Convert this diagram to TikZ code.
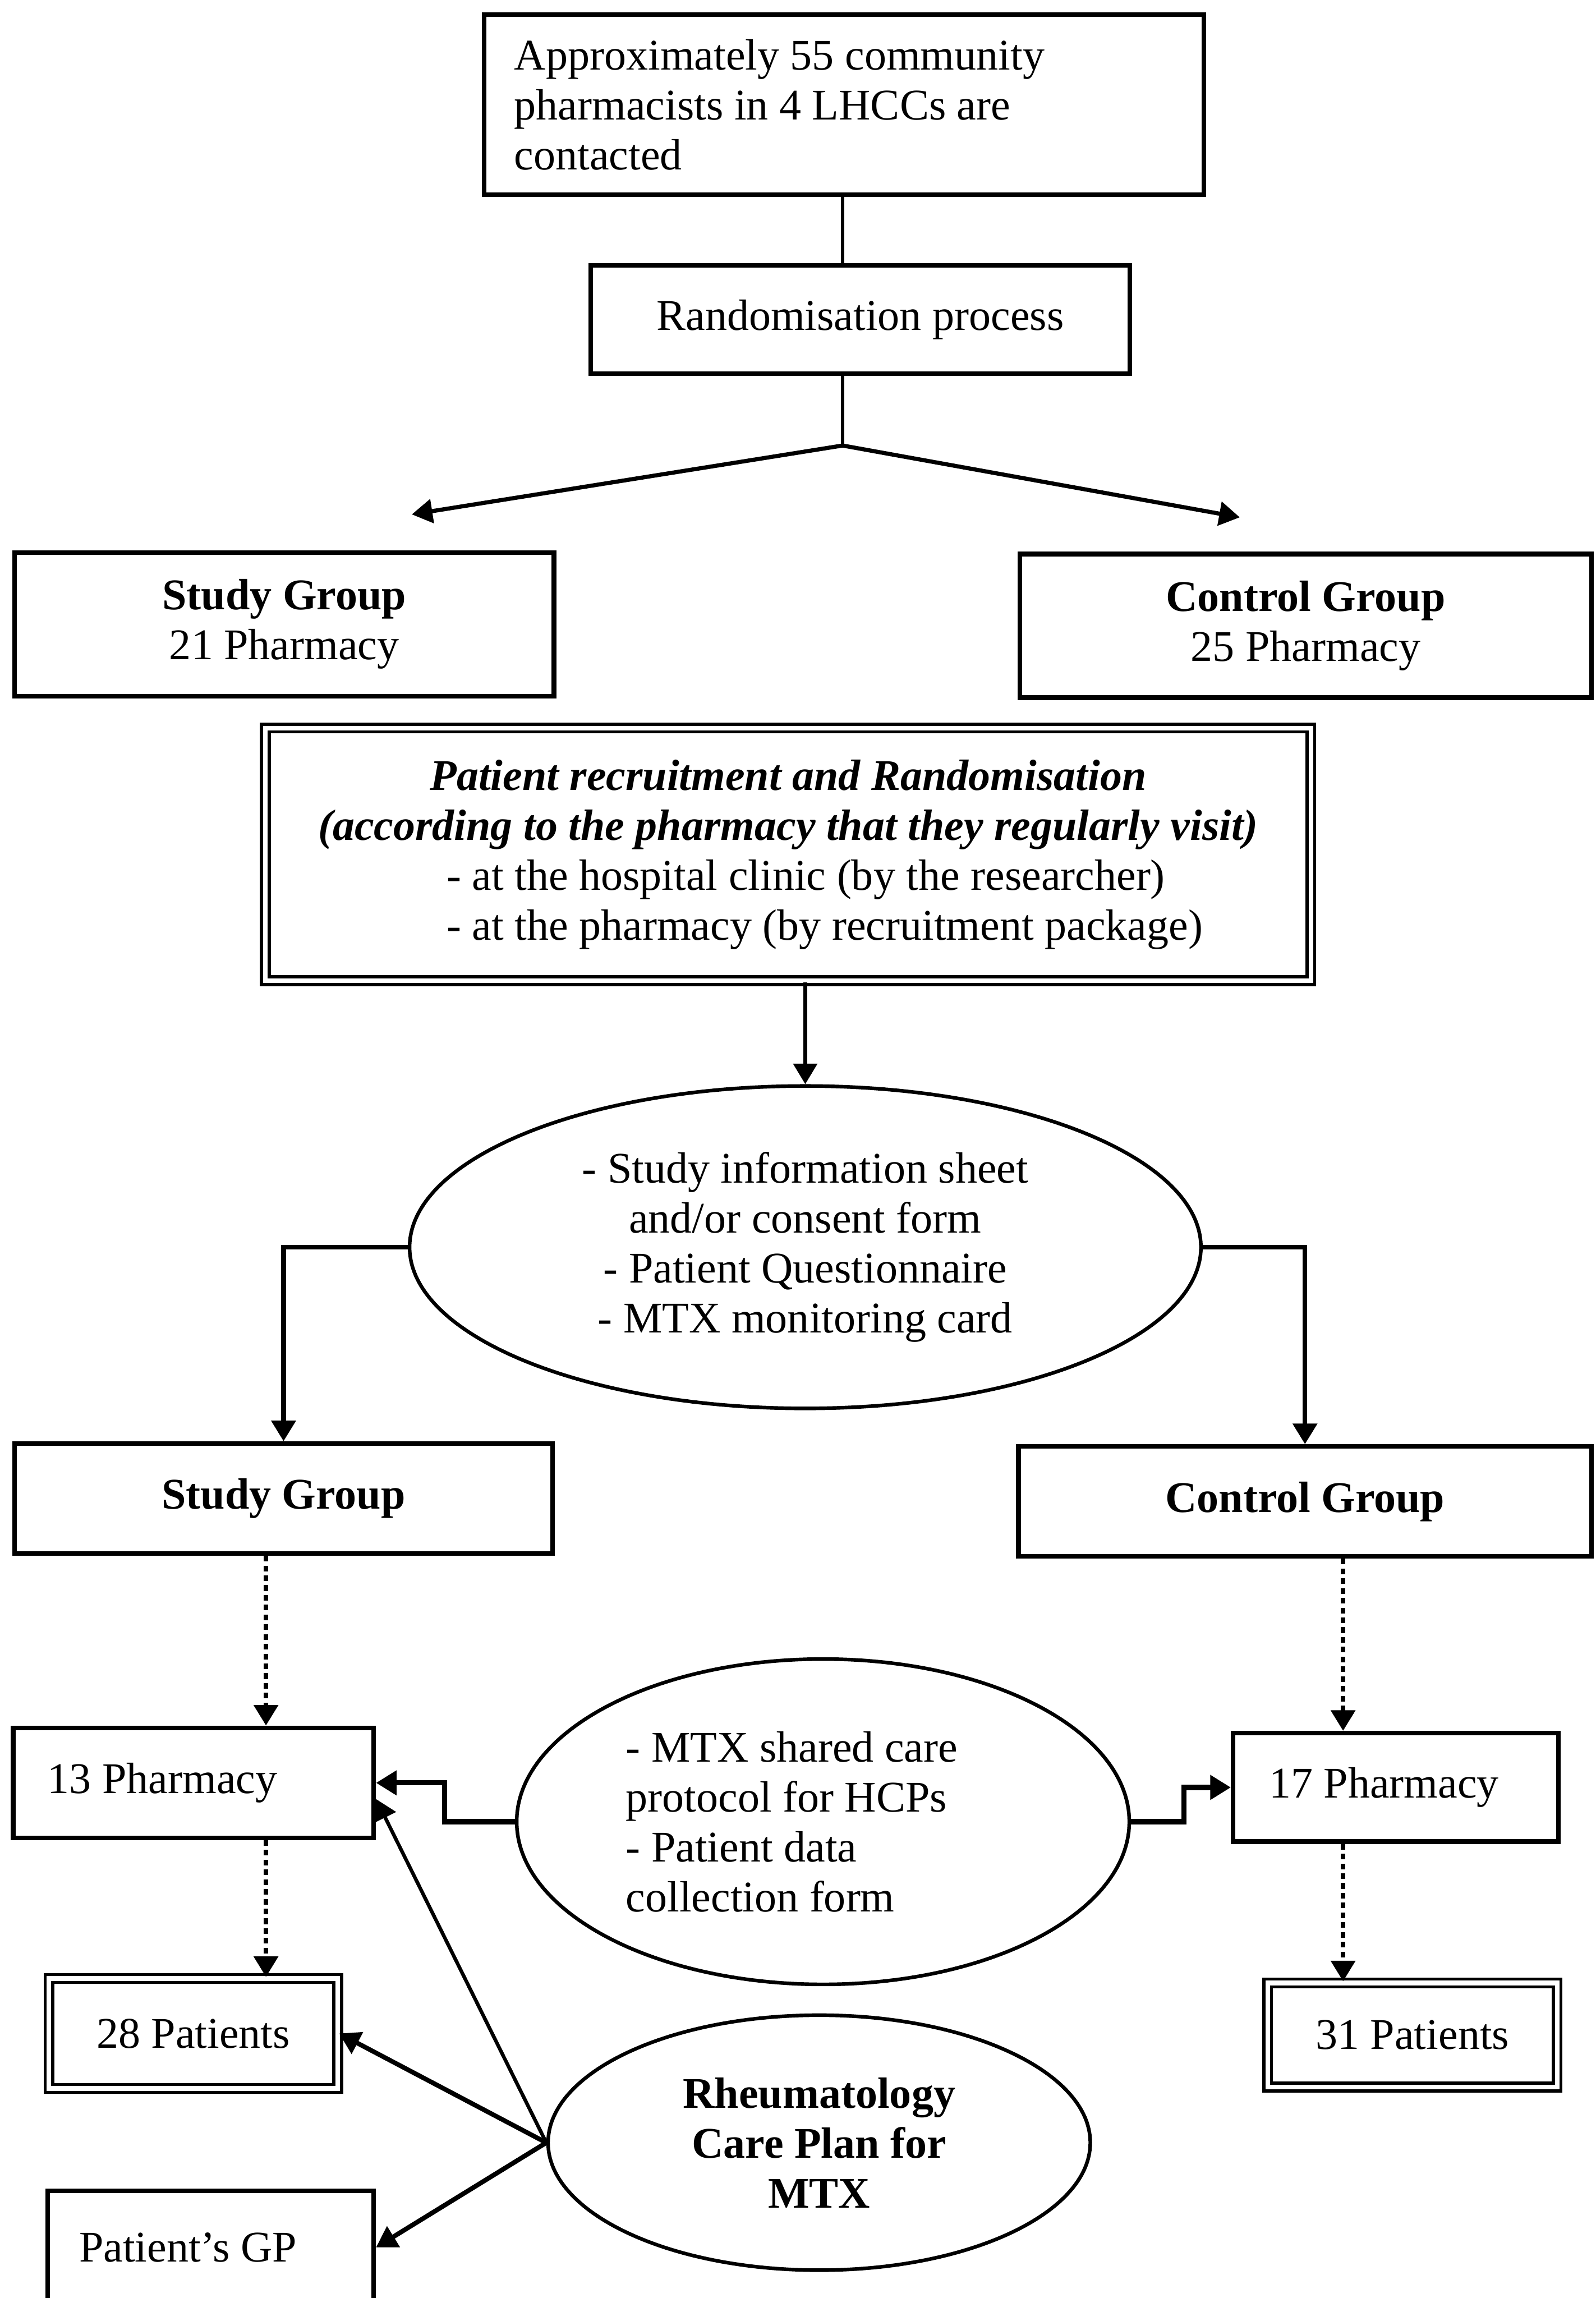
\documentclass[tikz,border=0pt]{standalone}
\usepackage{fontspec}
\setmainfont{Liberation Serif}
\usepackage{tikz}
\usetikzlibrary{shapes.geometric,arrows.meta}

\tikzset{
	box/.style={draw, line width=0.9pt, inner sep=0pt, align=center},
	dbox/.style={draw, line width=0.6pt, double, double distance=0.9pt, inner sep=0pt, align=center},
	oval/.style={draw, ellipse, line width=0.7pt, inner sep=0pt, align=center},
	link/.style={line width=0.6pt},
	arr/.style={->, >={Triangle[length=4pt,width=4.6pt]}, line width=0.7pt},
	dotarr/.style={arr, line width=0.9pt, dash pattern=on 1.1pt off 0.8pt},
}

\begin{document}
\begin{tikzpicture}[every node/.style={font=\fontsize{8.5}{9.7}\selectfont}]

\useasboundingbox (0,0) rectangle (10.89,-15.68);
\clip (0,0) rectangle (10.89,-15.68);

%helper coordinates
\coordinate (split) at (5.75,-3.04);	%where the two first arrows start
\coordinate (lend)  at (2.81,-3.51);	%free end, left
\coordinate (rend)  at (8.46,-3.53);	%free end, right
\coordinate (lcol)  at (1.815,0);		%dotted column, left
\coordinate (rcol)  at (9.165,0);		%dotted column, right

%top of the chart
\node[box, text width=4.5cm, align=flush left, inner xsep=0.205cm, minimum height=1.23cm] (top) at (5.76,-0.714)
	{Approximately 55 community\\pharmacists in 4 LHCCs are\\contacted};
\node[box, minimum width=3.68cm, minimum height=0.74cm] (rand) at (5.87,-2.18) {Randomisation process};

%first split
\node[box, minimum width=3.68cm, minimum height=0.98cm] (study1) at (1.94,-4.26) {\textbf{Study Group}\\21 Pharmacy};
\node[box, minimum width=3.90cm, minimum height=0.98cm] (control1) at (8.91,-4.27) {\textbf{Control Group}\\25 Pharmacy};

%recruitment (double border)
\node[dbox, minimum width=7.135cm, minimum height=1.724cm] (recruit) at (5.378,-5.83)
	{\textbf{\textit{Patient recruitment and Randomisation}}\\
	 \textbf{\textit{(according to the pharmacy that they regularly visit)}}\\
	 \makebox[4.66cm][l]{- at the hospital clinic (by the researcher)}\\
	 \makebox[4.66cm][l]{- at the pharmacy (by recruitment package)}};

%documents handed out
\node[oval, minimum width=5.40cm, minimum height=2.20cm] (info) at (5.495,-8.51)
	{- Study information sheet\\and/or consent form\\- Patient Questionnaire\\- MTX monitoring card};

%second split
\node[box, minimum width=3.67cm, minimum height=0.75cm] (study2) at (1.935,-10.225) {\textbf{Study Group}};
\node[box, minimum width=3.91cm, minimum height=0.75cm] (control2) at (8.905,-10.245) {\textbf{Control Group}};

%pharmacies
\node[box, text width=1.99cm, align=flush left, inner xsep=0.235cm, minimum height=0.75cm] (pharm13) at (1.32,-12.165) {13 Pharmacy};
\node[box, text width=1.73cm, align=flush left, inner xsep=0.245cm, minimum height=0.74cm] (pharm17) at (9.525,-12.196) {17 Pharmacy};
\node[oval, text width=2.69cm, align=flush left, minimum width=4.18cm, minimum height=2.22cm] (care) at (5.616,-12.43)
	{- MTX shared care\\protocol for HCPs\\- Patient data\\collection form};

%patients
\node[dbox, minimum width=1.97cm, minimum height=0.75cm] (p28) at (1.319,-13.875) {28 Patients};
\node[dbox, minimum width=1.975cm, minimum height=0.71cm] (p31) at (9.638,-13.885) {31 Patients};
\node[oval, minimum width=3.70cm, minimum height=1.74cm] (rheum) at (5.59,-14.62)
	{\textbf{Rheumatology}\\\textbf{Care Plan for}\\\textbf{MTX}};
\node[box, text width=1.795cm, align=flush left, inner xsep=0.215cm, minimum height=0.77cm] (gp) at (1.4375,-15.335) {Patient's GP};

%connectors
\draw [link] (top.south -| split) -- (rand.north -| split);
\draw [link] (rand.south -| split) -- (split);
\draw [arr, line width=0.8pt] (split) -- (lend);
\draw [arr, line width=0.8pt] (split) -- (rend);
\draw [arr] (info.north |- recruit.south) -- (info.north);
\draw [arr, line width=0.9pt] (info.west) -| (study2.north);
\draw [arr, line width=0.9pt] (info.east) -| (control2.north);

%dotted ones
\draw [dotarr] (study2.south -| lcol) -- (pharm13.north -| lcol);
\draw [dotarr] (control2.south -| rcol) -- (pharm17.north -| rcol);
\draw [dotarr] (pharm13.south -| lcol) -- (p28.north -| lcol);
\draw [dotarr] (pharm17.south -| rcol) -- (p31.north -| rcol);

%steps out of the protocol oval
\draw [arr, line width=1pt] (care.west) -- ++(-0.48,0) |- (pharm13.east);
\draw [arr, line width=1pt] (care.east) -- ++(0.36,0) |- (pharm17.west);

%care plan fan
\draw [arr] (rheum.west) -- ([yshift=-1.1mm]pharm13.east);
\draw [arr, line width=0.9pt] (rheum.west) -- (p28.east);
\draw [arr, line width=0.9pt] (rheum.west) -- (gp.east);

\end{tikzpicture}
\end{document}
